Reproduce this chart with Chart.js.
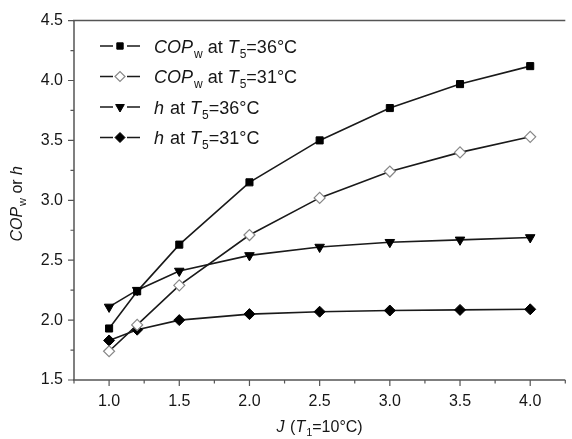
<!DOCTYPE html>
<html>
<head>
<meta charset="utf-8">
<script src="https://cdn.jsdelivr.net/npm/chart.js@4/dist/chart.umd.min.js"></script>
<style>
  html, body { margin: 0; padding: 0; background: #fff; }
  #wrap { width: 572px; height: 439px; position: relative; }
</style>
</head>
<body>
<div id="wrap"><canvas id="c" width="572" height="439"></canvas></div>
<script>
// ---- data ----
const jValues = [1.0, 1.2, 1.5, 2.0, 2.5, 3.0, 3.5, 4.0];
const copw36 = [1.93, 2.24, 2.63, 3.15, 3.50, 3.77, 3.97, 4.12];
const copw31 = [1.74, 1.96, 2.29, 2.71, 3.02, 3.24, 3.40, 3.53];
const h36 = [2.11, 2.25, 2.41, 2.54, 2.61, 2.65, 2.67, 2.69];
const h31 = [1.83, 1.92, 2.00, 2.05, 2.07, 2.08, 2.085, 2.09];
// labels: *..* italic, _x subscript
const seriesLabels = ['*COP*_w at *T*_5=36°C', '*COP*_w at *T*_5=31°C', '*h* at *T*_5=36°C', '*h* at *T*_5=31°C'];
const xTicks = [1.0, 1.5, 2.0, 2.5, 3.0, 3.5, 4.0];
const xMinorTicks = [0.75, 1.25, 1.75, 2.25, 2.75, 3.25, 3.75, 4.25];
const yTicks = [1.5, 2.0, 2.5, 3.0, 3.5, 4.0, 4.5];
const yMinorTicks = [1.75, 2.25, 2.75, 3.25, 3.75, 4.25];
const xTitle = '*J* (*T*_1=10°C)';
const yTitle = '*COP*_w or *h*';

const FONT = '"Liberation Sans", Arial, Helvetica, sans-serif';
const LINE = '#1a1a1a';
const AXIS = '#555';
const TEXT = '#161616';

function parseRich(s) {
  const segs = [];
  let italic = false, i = 0, buf = '';
  const flush = () => { if (buf) { segs.push({t: buf, it: italic, sub: false}); buf = ''; } };
  while (i < s.length) {
    const ch = s[i];
    if (ch === '*') { flush(); italic = !italic; i++; }
    else if (ch === '_') { flush(); segs.push({t: s[i + 1], it: false, sub: true}); i += 2; }
    else { buf += ch; i++; }
  }
  flush();
  return segs;
}
function segFont(sg, size) {
  const sz = sg.sub ? Math.round(size * 0.66) : size;
  return (sg.it ? 'italic ' : '') + sz + 'px ' + FONT;
}
function richWidth(ctx, segs, size) {
  let w = 0;
  for (const sg of segs) {
    ctx.font = segFont(sg, size);
    w += ctx.measureText(sg.t).width + (sg.it && !sg.sub ? 1 : 0);
  }
  return w;
}
function drawRich(ctx, segs, x, y, size) {
  ctx.textBaseline = 'alphabetic';
  ctx.textAlign = 'left';
  for (const sg of segs) {
    ctx.font = segFont(sg, size);
    ctx.fillText(sg.t, x, y + (sg.sub ? size * 0.28 : 0));
    x += ctx.measureText(sg.t).width + (sg.it && !sg.sub ? 1 : 0);
  }
}

const mk = (vals) => jValues.map((x, i) => ({x, y: vals[i]}));

const styles = [
  {pointStyle: 'rect', rotation: 0, radius: 5, bg: '#000', bc: '#000', bw: 1},
  {pointStyle: 'rectRot', rotation: 0, radius: 5.5, bg: '#fff', bc: '#888', bw: 1.2},
  {pointStyle: 'triangle', rotation: 180, radius: 5.5, bg: '#000', bc: '#000', bw: 1},
  {pointStyle: 'rectRot', rotation: 0, radius: 5.5, bg: '#000', bc: '#000', bw: 1}
];
const seriesValues = [copw36, copw31, h36, h31];

const datasets = seriesValues.map((v, i) => ({
  label: seriesLabels[i].replace(/[*_]/g, ''),
  data: mk(v),
  showLine: true,
  borderColor: LINE,
  borderWidth: 1.6,
  pointStyle: styles[i].pointStyle,
  rotation: styles[i].rotation,
  pointRadius: styles[i].radius,
  pointHoverRadius: styles[i].radius,
  pointBackgroundColor: styles[i].bg,
  pointBorderColor: styles[i].bc,
  pointBorderWidth: styles[i].bw,
  tension: 0
}));

const decor = {
  id: 'decor',
  afterDraw(chart) {
    const ctx = chart.ctx;
    const a = chart.chartArea;
    const xs = chart.scales.x, ys = chart.scales.y;
    ctx.save();
    // frame: left, bottom, top
    ctx.strokeStyle = AXIS;
    ctx.lineWidth = 1.5;
    ctx.beginPath();
    ctx.moveTo(a.left, a.top); ctx.lineTo(a.left, a.bottom);
    ctx.moveTo(a.left - 1, a.bottom); ctx.lineTo(a.right, a.bottom);
    ctx.moveTo(a.left - 1, a.top); ctx.lineTo(a.right, a.top);
    ctx.stroke();
    // ticks
    ctx.lineWidth = 1.2;
    ctx.beginPath();
    for (const v of xTicks) { const p = xs.getPixelForValue(v); ctx.moveTo(p, a.bottom); ctx.lineTo(p, a.bottom + 6); }
    for (const v of xMinorTicks) { const p = xs.getPixelForValue(v); ctx.moveTo(p, a.bottom); ctx.lineTo(p, a.bottom + 3.5); }
    for (const v of yTicks) { const p = ys.getPixelForValue(v); ctx.moveTo(a.left, p); ctx.lineTo(a.left - 6, p); }
    for (const v of yMinorTicks) { const p = ys.getPixelForValue(v); ctx.moveTo(a.left, p); ctx.lineTo(a.left - 3.5, p); }
    ctx.stroke();
    // legend
    const lx0 = 100, lx1 = 140, tx = 154, ly0 = 46, dy = 30.5, lsize = 18;
    seriesLabels.forEach((lab, i) => {
      const y = ly0 + i * dy;
      const cx = (lx0 + lx1) / 2;
      ctx.strokeStyle = LINE; ctx.lineWidth = 1.5;
      ctx.beginPath();
      ctx.moveTo(lx0, y); ctx.lineTo(cx - 7, y);
      ctx.moveTo(cx + 7, y); ctx.lineTo(lx1, y);
      ctx.stroke();
      const s = styles[i];
      ctx.fillStyle = s.bg; ctx.strokeStyle = s.bc; ctx.lineWidth = s.bw;
      Chart.helpers.drawPoint(ctx, {pointStyle: s.pointStyle, rotation: s.rotation, radius: s.radius - 0.5, borderWidth: s.bw}, cx, y);
      ctx.fillStyle = TEXT;
      drawRich(ctx, parseRich(lab), tx, y + 6.5, lsize);
    });
    // x title
    ctx.fillStyle = TEXT;
    const xsegs = parseRich(xTitle);
    const xw = richWidth(ctx, xsegs, 16);
    drawRich(ctx, xsegs, (a.left + a.right) / 2 - xw / 2, 432, 16);
    // y title
    const ysegs = parseRich(yTitle);
    const yw = richWidth(ctx, ysegs, 16);
    ctx.translate(22, (a.top + a.bottom) / 2 + 3);
    ctx.rotate(-Math.PI / 2);
    drawRich(ctx, ysegs, -yw / 2, 0, 16);
    ctx.restore();
  }
};

new Chart(document.getElementById('c'), {
  type: 'scatter',
  data: {datasets},
  options: {
    responsive: false,
    animation: false,
    events: [],
    layout: {padding: {top: 16, right: 0, left: 0, bottom: 0}},
    plugins: {legend: {display: false}, tooltip: {enabled: false}},
    scales: {
      x: {
        type: 'linear', min: 0.75, max: 4.25,
        afterBuildTicks: (s) => { s.ticks = xTicks.map(v => ({value: v})); },
        afterFit: (s) => { s.height = 59; },
        grid: {display: false, drawTicks: false},
        border: {display: false},
        ticks: {padding: 12, color: TEXT, font: {family: FONT, size: 16}, callback: (v) => v.toFixed(1), maxRotation: 0, autoSkip: false}
      },
      y: {
        type: 'linear', min: 1.5, max: 4.5,
        afterBuildTicks: (s) => { s.ticks = yTicks.map(v => ({value: v})); },
        afterFit: (s) => { s.width = 74; },
        grid: {display: false, drawTicks: false},
        border: {display: false},
        ticks: {padding: 11, color: TEXT, font: {family: FONT, size: 16}, callback: (v) => v.toFixed(1), autoSkip: false}
      }
    }
  },
  plugins: [decor]
});
</script>
</body>
</html>
